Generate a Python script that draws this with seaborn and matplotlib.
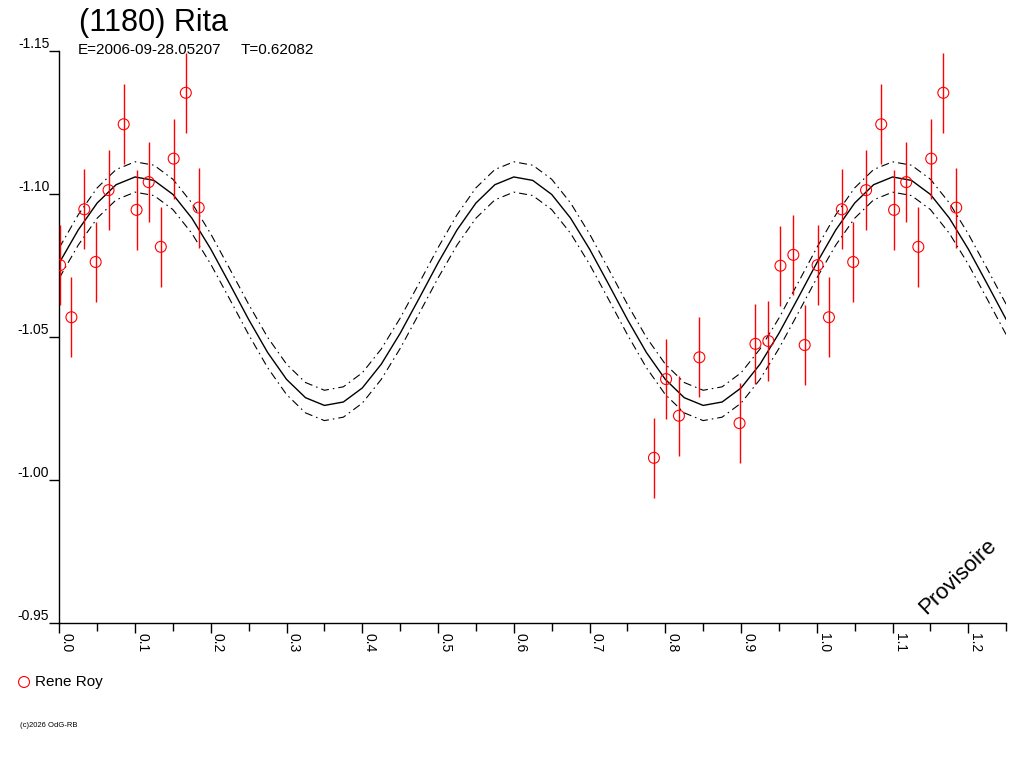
import matplotlib
matplotlib.use("Agg")
import matplotlib.pyplot as plt
import matplotlib.ticker as mticker
import seaborn as sns
import pandas as pd

# observed points (phase, reduced magnitude, error)
obs_phase = [0.001, 0.016, 0.033, 0.048, 0.065, 0.085, 0.102, 0.118, 0.134, 0.151, 0.167, 0.184,
             0.785, 0.801, 0.818, 0.845, 0.898, 0.919, 0.936, 0.952, 0.969, 0.984]
obs_mag = [-1.0751, -1.0569, -1.0946, -1.0762, -1.1013, -1.1243, -1.0944, -1.1041, -1.0815, -1.1123,
           -1.1353, -1.0952, -1.0078, -1.0353, -1.0225, -1.0429, -1.0199, -1.0476, -1.0486, -1.0749,
           -1.0787, -1.0472]
obs_err = [0.014] * len(obs_phase)

# fitted curve and its envelope, sampled every 0.025 in phase (0 .. 1.25)
fit_phase = [i * 0.025 for i in range(51)]
fit_mag = [-1.0759, -1.0874, -1.0968, -1.1032, -1.1059, -1.1047, -1.0998, -1.0915, -1.0807, -1.0685,
           -1.0561, -1.0446, -1.0352, -1.0288, -1.0261, -1.0273, -1.0322, -1.0405, -1.0513, -1.0635,
           -1.0759, -1.0874, -1.0968, -1.1032, -1.1059, -1.1047, -1.0998, -1.0915, -1.0807, -1.0685,
           -1.0561, -1.0446, -1.0352, -1.0288, -1.0261, -1.0273, -1.0322, -1.0405, -1.0513, -1.0635,
           -1.0759, -1.0874, -1.0968, -1.1032, -1.1059, -1.1047, -1.0998, -1.0915, -1.0807, -1.0685,
           -1.0561]
fit_upper = [-1.0812, -1.0927, -1.1021, -1.1085, -1.1112, -1.1100, -1.1051, -1.0968, -1.0860, -1.0738,
             -1.0614, -1.0499, -1.0405, -1.0341, -1.0314, -1.0326, -1.0375, -1.0458, -1.0566, -1.0688,
             -1.0812, -1.0927, -1.1021, -1.1085, -1.1112, -1.1100, -1.1051, -1.0968, -1.0860, -1.0738,
             -1.0614, -1.0499, -1.0405, -1.0341, -1.0314, -1.0326, -1.0375, -1.0458, -1.0566, -1.0688,
             -1.0812, -1.0927, -1.1021, -1.1085, -1.1112, -1.1100, -1.1051, -1.0968, -1.0860, -1.0738,
             -1.0614]
fit_lower = [-1.0706, -1.0821, -1.0915, -1.0979, -1.1006, -1.0994, -1.0945, -1.0862, -1.0754, -1.0632,
             -1.0508, -1.0393, -1.0299, -1.0235, -1.0208, -1.0220, -1.0269, -1.0352, -1.0460, -1.0582,
             -1.0706, -1.0821, -1.0915, -1.0979, -1.1006, -1.0994, -1.0945, -1.0862, -1.0754, -1.0632,
             -1.0508, -1.0393, -1.0299, -1.0235, -1.0208, -1.0220, -1.0269, -1.0352, -1.0460, -1.0582,
             -1.0706, -1.0821, -1.0915, -1.0979, -1.1006, -1.0994, -1.0945, -1.0862, -1.0754, -1.0632,
             -1.0508]

y_ticks = [-1.15, -1.10, -1.05, -1.00, -0.95]
y_tick_labels = ['-1.15', '-1.10', '-1.05', '-1.00', '-0.95']
x_ticks = [0.0, 0.1, 0.2, 0.3, 0.4, 0.5, 0.6, 0.7, 0.8, 0.9, 1.0, 1.1, 1.2]
x_tick_labels = ['0.0', '0.1', '0.2', '0.3', '0.4', '0.5', '0.6', '0.7', '0.8', '0.9', '1.0', '1.1', '1.2']

title = '(1180) Rita'
epoch_text = 'E=2006-09-28.05207'
period_text = 'T=0.62082'
observer = 'Rene Roy'

sns.set_style('ticks')
plt.rcParams['font.family'] = ['Liberation Sans', 'DejaVu Sans']
plt.rcParams['text.color'] = 'black'
plt.rcParams['xtick.color'] = 'black'
plt.rcParams['ytick.color'] = 'black'

# points are shown twice: phase and phase + 1 (up to 1.25)
df = pd.DataFrame({'phase': obs_phase, 'mag': obs_mag, 'err': obs_err})
rep = df[df['phase'] + 1 <= 1.25].copy()
rep['phase'] = rep['phase'] + 1
pts = pd.concat([df, rep], ignore_index=True)

fig = plt.figure(figsize=(10.24, 7.68), dpi=100)
ax = fig.add_axes([0.05791, 0.18841, 0.92471, 0.74557])

dashdot = (0, (7.2, 3.6, 1.4, 3.6))
sns.lineplot(x=fit_phase, y=fit_upper, ax=ax, color='black', linewidth=0.8, linestyle=dashdot)
sns.lineplot(x=fit_phase, y=fit_lower, ax=ax, color='black', linewidth=0.8, linestyle=dashdot)
sns.lineplot(x=fit_phase, y=fit_mag, ax=ax, color='black', linewidth=1.0)

ax.errorbar(pts['phase'], pts['mag'], yerr=pts['err'], fmt='none', ecolor='red',
            elinewidth=1.0, capsize=0, zorder=3)
sns.scatterplot(data=pts, x='phase', y='mag', ax=ax, marker='o', s=62,
                facecolor='none', edgecolor='red', linewidth=0.8, zorder=4, label=observer)

ax.set_xlim(0, 1.25)
ax.set_ylim(-0.95, -1.15)
ax.set_xlabel('')
ax.set_ylabel('')
sns.despine(ax=ax)
for side in ['left', 'bottom']:
    ax.spines[side].set_color('black')
    ax.spines[side].set_linewidth(1.0)

ax.set_xticks(x_ticks)
ax.set_xticklabels(x_tick_labels, rotation=270, ha='left', va='top')
ax.xaxis.set_minor_locator(mticker.MultipleLocator(0.05))
ax.tick_params(axis='x', which='major', length=7.2, width=1.0, pad=0, labelsize=10, direction='out')
ax.tick_params(axis='x', which='minor', length=5.8, width=1.0, direction='out')

ax.set_yticks(y_ticks)
ax.set_yticklabels(y_tick_labels)
ax.tick_params(axis='y', length=7.2, width=1.0, pad=0, labelsize=10, direction='out')
for lbl in ax.get_yticklabels():
    lbl.set_verticalalignment('bottom')

leg = ax.legend(loc='center left', bbox_to_anchor=(16.4 / 1024, 1 - 682 / 768),
                bbox_transform=fig.transFigure, frameon=False, fontsize=11,
                handlelength=1.0, handletextpad=0.2, borderpad=0, borderaxespad=0)

fig.text(79 / 1024, 1 - 31 / 768, title, fontsize=22, va='baseline', ha='left')
fig.text(78 / 1024, 1 - 54 / 768, epoch_text, fontsize=11, va='baseline', ha='left')
fig.text(241 / 1024, 1 - 54 / 768, period_text, fontsize=11, va='baseline', ha='left')
fig.text(958 / 1024, 1 - 577 / 768, 'Provisoire', fontsize=16, rotation=44,
         ha='center', va='center', rotation_mode='anchor')
fig.text(20 / 1024, 1 - 727 / 768, '(c)2026 OdG-RB', fontsize=5.5, va='baseline', ha='left')

fig.savefig('out.png', dpi=100)
